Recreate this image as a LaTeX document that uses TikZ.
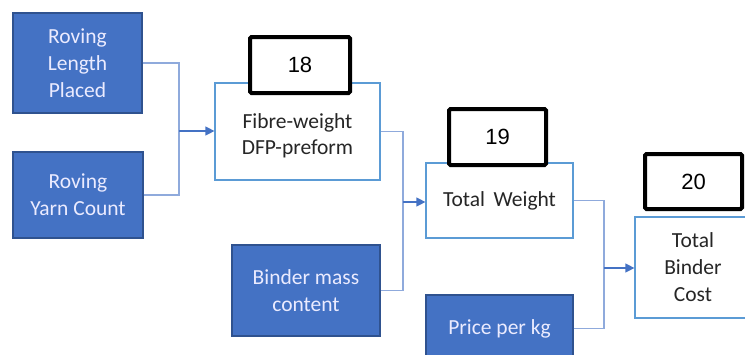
\documentclass[tikz,border=0pt]{standalone}
\usepackage{fontspec}
\setmainfont{Carlito}
\newfontfamily\numfont{Liberation Sans}
\usetikzlibrary{shadows,arrows.meta}
\definecolor{bluefill}{HTML}{4472C4}
\definecolor{blueedge}{HTML}{2F528F}
\definecolor{outlinec}{HTML}{5B9BD5}
\definecolor{linec}{HTML}{8FAADC}
\begin{document}
\begin{tikzpicture}[x=1pt,y=-1pt,
 inbox/.style={draw=blueedge, fill=bluefill, line width=1.2pt, text=white!92!blue, font=\fontsize{21.5}{27}\selectfont, align=center, inner sep=0pt},
 calcbox/.style={draw=outlinec, fill=white, line width=1.2pt, text=black!85, font=\fontsize{21.5}{27}\selectfont, align=center, inner sep=0pt},
 calctext/.style={text=black!85, font=\fontsize{21.5}{26}\selectfont, align=center, inner sep=0pt},
 numbox/.style={draw=black, fill=white, line width=4pt, rounded corners=1.5pt, font=\numfont\fontsize{22}{26}\selectfont, inner sep=0pt, drop shadow={opacity=0.45, shadow xshift=1pt, shadow yshift=-1.2pt}},
 conn/.style={draw=linec, line width=1.1pt},
 arr/.style={draw=bluefill, line width=1.2pt, -{Triangle[length=9pt,width=9pt]}}
]
\useasboundingbox (0,0) rectangle (745,354);
\clip (0,0) rectangle (745,354);
% junctions
\coordinate (j1) at (179,131);
\coordinate (j2) at (403,202);
\coordinate (j3) at (604,268);
% input boxes
\node[inbox, minimum width=129pt, minimum height=100pt] (rlp) at (77.5,63) {Roving\\Length\\Placed};
\node[inbox, minimum width=130pt, minimum height=86pt] (ryc) at (78,195) {Roving\\Yarn Count};
\node[inbox, minimum width=148pt, minimum height=91pt] (bmc) at (306,290.5) {Binder mass\\content};
\node[inbox, minimum width=147pt, minimum height=67pt] (ppk) at (499.5,328.5) {Price per kg};
% calculation boxes
\node[calcbox, minimum width=165pt, minimum height=97pt] (fib) at (297.5,131.5) {};
\node[calctext] (fibt) at (297.5,136) {Fibre-weight\\DFP-preform};
\node[calcbox, minimum width=147pt, minimum height=75pt] (tw) at (499.5,200.5) {Total\, Weight};
\node[calcbox, minimum width=116pt, minimum height=101pt] (tbc) at (693,267.5) {Total\\Binder\\Cost};
% connectors
\draw[conn] (rlp.east) -| (j1);
\draw[conn] (ryc.east) -| (j1);
\draw[arr] (j1) -- (j1 -| fib.west);
\draw[conn] (fib.east) -| (j2);
\draw[conn] (bmc.east) -| (j2);
\draw[arr] (j2) -- (j2 -| tw.west);
\draw[conn] (tw.east) -| (j3);
\draw[conn] (ppk.east) -| (j3);
\draw[arr] (j3) -- (j3 -| tbc.west);
% number boxes
\node[numbox, minimum width=100pt, minimum height=56pt] (n18) at (300,65) {18};
\node[numbox, minimum width=97pt, minimum height=56pt] (n19) at (497.5,137) {19};
\node[numbox, minimum width=97pt, minimum height=55pt] (n20) at (693.5,181.5) {20};
\end{tikzpicture}
\end{document}
